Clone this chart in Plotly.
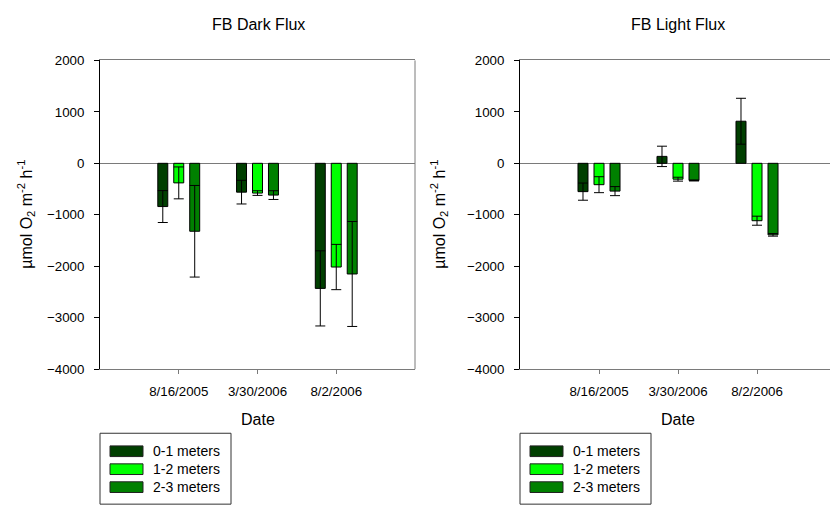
import plotly.graph_objects as go

W, H = 830, 517

dates = ["8/16/2005", "3/30/2006", "8/2/2006"]
depths = ["0-1 meters", "1-2 meters", "2-3 meters"]
colors = ["#003f00", "#00ff00", "#008000"]

# Dark flux (µmol O2 m-2 h-1): means and standard errors per depth layer
dark_0_1 = [-840, -560, -2430]
dark_0_1_err = [310, 230, 730]
dark_1_2 = [-380, -578, -2015]
dark_1_2_err = [310, 45, 440]
dark_2_3 = [-1320, -617, -2150]
dark_2_3_err = [890, 85, 1020]

# Light flux
light_0_1 = [-550, 135, 818]
light_0_1_err = [167, 198, 446]
light_1_2 = [-415, -308, -1115]
light_1_2_err = [155, 38, 88]
light_2_3 = [-540, -333, -1390]
light_2_3_err = [88, 10, 25]

y_ticks = [-4000, -3000, -2000, -1000, 0, 1000, 2000]

FONT = "Liberation Sans, Arial, sans-serif"
GRAY = "#7a7a7a"


def px(x):
    return x / W


def py(y):
    return 1 - y / H


fig = go.Figure()

panels = [
    ("x", "y", [dark_0_1, dark_1_2, dark_2_3], [dark_0_1_err, dark_1_2_err, dark_2_3_err]),
    ("x2", "y2", [light_0_1, light_1_2, light_2_3], [light_0_1_err, light_1_2_err, light_2_3_err]),
]
for xa, ya, means, errs in panels:
    for name, color, m, e in zip(depths, colors, means, errs):
        fig.add_trace(go.Bar(
            x=dates, y=m, name=name, xaxis=xa, yaxis=ya, showlegend=False,
            marker=dict(color=color, line=dict(color="black", width=1)),
            error_y=dict(type="data", array=e, visible=True,
                         color="black", thickness=1, width=5),
        ))

common_x = dict(
    type="category", showline=True, linecolor=GRAY, linewidth=1, mirror=True,
    ticks="outside", ticklen=4, tickcolor=GRAY, showgrid=False, zeroline=False,
    ticklabelstandoff=6,
    tickfont=dict(family=FONT, size=13.3, color="black"),
)
common_y = dict(
    range=[-4000, 2000], tickvals=y_ticks, showline=True, linecolor="black",
    linewidth=1, ticks="outside", ticklen=5, tickcolor="black", showgrid=False,
    zeroline=True, zerolinecolor=GRAY, zerolinewidth=1,
    ticklabelstandoff=7,
    tickfont=dict(family=FONT, size=13.3, color="black"),
)

ydom = [py(373), py(55)]
fig.update_layout(
    width=W, height=H, margin=dict(l=0, r=0, t=0, b=0),
    paper_bgcolor="white", plot_bgcolor="white",
    barmode="group", bargap=0.392, bargroupgap=0.375,
    xaxis=dict(domain=[px(100), px(415)], range=[-1, 3], anchor="y", **common_x),
    yaxis=dict(domain=ydom, anchor="x", **common_y),
    xaxis2=dict(domain=[px(520), 1.0], range=[-1, 2.924], anchor="y2", **common_x),
    yaxis2=dict(domain=ydom, anchor="x2", **common_y),
)

# right border of the dark-flux frame
fig.add_shape(type="line", xref="x domain", yref="y domain", x0=1, x1=1, y0=0, y1=1,
              line=dict(color=GRAY, width=1))

ann = []
ylabel = "µmol O<sub>2</sub> m<sup>-2</sup> h<sup>-1</sup>"


def label(text, x, y, size, **kw):
    ann.append(dict(text=text, x=px(x), y=py(y), xref="paper", yref="paper",
                    xanchor=kw.pop("xanchor", "center"), yanchor="middle",
                    showarrow=False, font=dict(family=FONT, size=size, color="black"),
                    **kw))


for title, cx, lx in [("FB Dark Flux", 258, 26), ("FB Light Flux", 678, 439)]:
    label(title, cx, 18, 16)
    label("Date", cx, 425, 16)
    label(ylabel, lx, 214, 16, textangle=-90)

# legend boxes, one under each panel
for bx in (100, 520):
    fig.add_shape(type="rect", xref="paper", yref="paper",
                  x0=px(bx), x1=px(bx + 131), y0=py(512), y1=py(439),
                  line=dict(color="#333333", width=1), fillcolor="white")
    for i, (name, color) in enumerate(zip(depths, colors)):
        cy = 457.5 + i * 18.5
        fig.add_shape(type="rect", xref="paper", yref="paper",
                      x0=px(bx + 10), x1=px(bx + 43), y0=py(cy + 5.5), y1=py(cy - 5.5),
                      line=dict(color="#222222", width=1), fillcolor=color)
        label(name, bx + 51, cy, 14, xanchor="left")

fig.update_layout(annotations=ann)
fig.write_html("out.html")
